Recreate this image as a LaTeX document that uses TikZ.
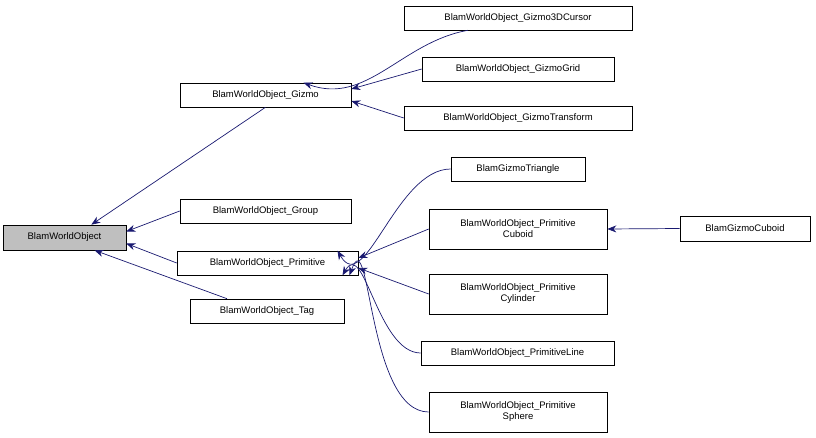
\documentclass[tikz,border=0pt]{standalone}
\usepackage{fontspec}
\setmainfont{Liberation Sans}
\usetikzlibrary{arrows.meta}
\definecolor{edgec}{RGB}{25,25,112}
\begin{document}
\begin{tikzpicture}[x=1pt,y=-1pt,
  box/.style={draw=black,line width=0.6pt,fill=white,inner sep=1pt,font=\fontsize{9.5}{11}\selectfont,align=center},
  e/.style={draw=edgec,line width=0.7pt,{Stealth[length=9pt,width=7pt]}-}]
\useasboundingbox (0,0) rectangle (816,438);
\node[box,fill=black!25,minimum width=123,minimum height=25] (base) at (64.5,237.5) {BlamWorldObject};
\node[box,minimum width=171,minimum height=24] (gizmo) at (265.5,95) {BlamWorldObject\_Gizmo};
\node[box,minimum width=171,minimum height=24] (group) at (265.5,211) {BlamWorldObject\_Group};
\node[box,minimum width=181,minimum height=24] (prim) at (267.5,263) {BlamWorldObject\_Primitive};
\node[box,minimum width=154,minimum height=24] (tag) at (267,311) {BlamWorldObject\_Tag};
\node[box,minimum width=228,minimum height=24] (cursor) at (518,18) {BlamWorldObject\_Gizmo3DCursor};
\node[box,minimum width=192,minimum height=24] (grid) at (518,69) {BlamWorldObject\_GizmoGrid};
\node[box,minimum width=228,minimum height=24] (trans) at (518,118) {BlamWorldObject\_GizmoTransform};
\node[box,minimum width=134,minimum height=24] (tri) at (518,169) {BlamGizmoTriangle};
\node[box,minimum width=178,minimum height=40] (cub) at (518,229) {BlamWorldObject\_Primitive\\Cuboid};
\node[box,minimum width=178,minimum height=40] (cyl) at (518,294) {BlamWorldObject\_Primitive\\Cylinder};
\node[box,minimum width=193,minimum height=24] (line) at (517.5,353) {BlamWorldObject\_PrimitiveLine};
\node[box,minimum width=178,minimum height=40] (sph) at (518,412) {BlamWorldObject\_Primitive\\Sphere};
\node[box,minimum width=130,minimum height=25] (gcub) at (745,228.5) {BlamGizmoCuboid};
\path[e] (base.north east)++(-35,0) -- (gizmo.south);
\path[e] (base.east)++(0,-6) -- (group.west);
\path[e] (base.east)++(0,6) -- (prim.west);
\path[e] (base.south)++(30,0) -- ([xshift=-40pt]tag.north);
\path[e] ([xshift=38pt]gizmo.north) to[out=-20,in=190] ([xshift=-50pt]cursor.south);
\path[e] (gizmo.east)++(0,-6) -- (grid.west);
\path[e] (gizmo.east)++(0,6) -- (trans.west);
\path[e] ([xshift=70pt]prim.north) to[out=-60,in=180] (tri.west);
\path[e] (prim.east)++(0,-5) -- (cub.west);
\path[e] (prim.east)++(0,5) -- (cyl.west);
\path[e] ([xshift=75pt]prim.south) to[out=60,in=180] (line.west);
\path[e] ([xshift=82pt]prim.south) to[out=70,in=180] (sph.west);
\path[e] (cub.east) -- (gcub.west);
\end{tikzpicture}
\end{document}
